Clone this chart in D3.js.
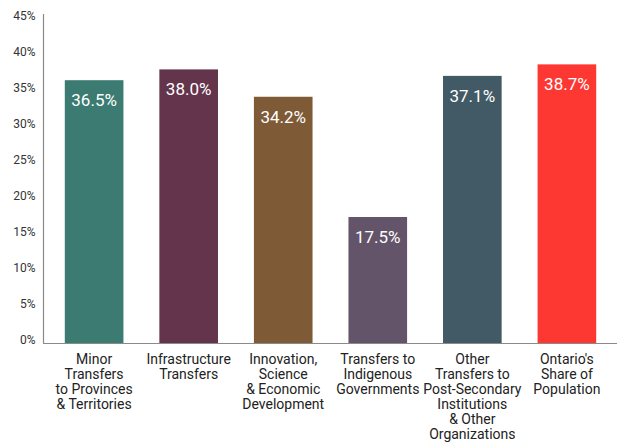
<!DOCTYPE html>
<html>
<head>
<meta charset="utf-8">
<script src="https://cdn.jsdelivr.net/npm/d3@7"></script>
<style>
  html, body { margin: 0; padding: 0; background: #fff; }
  svg { display: block; font-family: Roboto, "Noto Sans", sans-serif; }
</style>
</head>
<body>
<svg id="chart" width="617" height="442"></svg>
<script>
// Categories (line-broken as shown under each bar)
const categories = [
  ["Minor", "Transfers", "to Provinces", "& Territories"],
  ["Infrastructure", "Transfers"],
  ["Innovation,", "Science", "& Economic", "Development"],
  ["Transfers to", "Indigenous", "Governments"],
  ["Other", "Transfers to", "Post-Secondary", "Institutions", "& Other", "Organizations"],
  ["Ontario's", "Share of", "Population"]
];
// Share of federal spending in Ontario (%)
const values = [36.5, 38.0, 34.2, 17.5, 37.1, 38.7];
const colors = ["#3b7b72", "#63344b", "#7e5a36", "#64546a", "#425a66", "#fd3832"];
const yTicks = [0, 5, 10, 15, 20, 25, 30, 35, 40, 45];

const svg = d3.select("#chart");
const baseY = 343, topY = 19;

const x = d3.scaleBand()
  .domain(d3.range(values.length))
  .range([44, 617])
  .paddingInner(0.38)
  .paddingOuter(0.22);

const y = d3.scaleLinear().domain([0, 45]).range([baseY, topY]);

// y axis: line and percentage labels
svg.append("line")
  .attr("x1", 43.5).attr("x2", 43.5)
  .attr("y1", 14).attr("y2", baseY)
  .attr("stroke", "#8a8a8a").attr("stroke-width", 1.2);

svg.append("g").selectAll("text")
  .data(yTicks).join("text")
  .attr("x", 35.5)
  .attr("y", d => y(d) + 1)
  .attr("text-anchor", "end")
  .attr("font-size", 12)
  .attr("fill", "#333")
  .text(d => d + "%");

// bars
svg.append("g").selectAll("rect")
  .data(values).join("rect")
  .attr("x", (d, i) => x(i))
  .attr("y", d => y(d))
  .attr("width", x.bandwidth())
  .attr("height", d => baseY - y(d))
  .attr("fill", (d, i) => colors[i]);

// value labels inside bar tops
svg.append("g").selectAll("text")
  .data(values).join("text")
  .attr("x", (d, i) => x(i) + x.bandwidth() / 2)
  .attr("y", d => y(d) + 26)
  .attr("text-anchor", "middle")
  .attr("font-size", 17)
  .attr("fill", "#ffffff")
  .text(d => d.toFixed(1) + "%");

// x axis baseline
svg.append("line")
  .attr("x1", 43).attr("x2", 617)
  .attr("y1", baseY + 0.5).attr("y2", baseY + 0.5)
  .attr("stroke", "#8a8a8a").attr("stroke-width", 1.2);

// category labels
const cat = svg.append("g").selectAll("text")
  .data(categories).join("text")
  .attr("x", (d, i) => x(i) + x.bandwidth() / 2)
  .attr("y", 364.3)
  .attr("text-anchor", "middle")
  .attr("font-size", 14)
  .attr("fill", "#222");

cat.selectAll("tspan")
  .data(d => d).join("tspan")
  .attr("x", function () { return d3.select(this.parentNode).attr("x"); })
  .attr("dy", (d, j) => j === 0 ? 0 : 15)
  .text(d => d);
</script>
</body>
</html>
